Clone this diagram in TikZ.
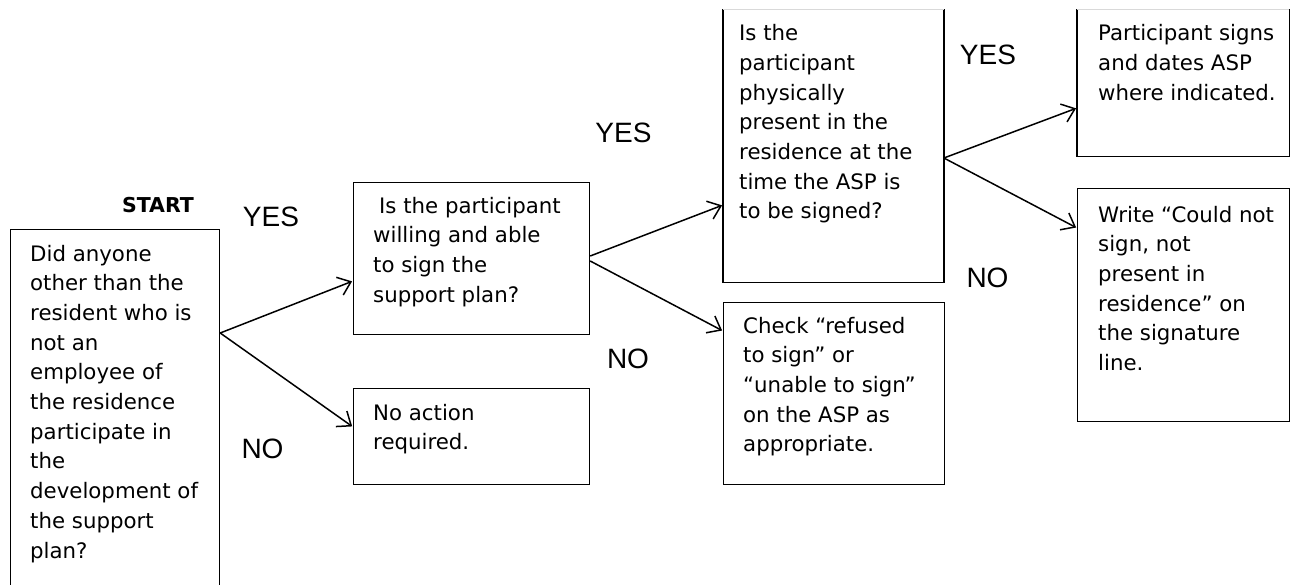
\documentclass[tikz,border=0pt]{standalone}
\usepackage{fontspec}
\setmainfont{DejaVu Sans}
\newfontfamily\arialfont{Liberation Sans}
\usetikzlibrary{arrows.meta}
\begin{document}
\begin{tikzpicture}[x=1pt,y=-1pt,
  boxnode/.style={draw=black, line width=1.2pt, rectangle, inner sep=0pt, anchor=north west},
  openbox/.style={draw=none, rectangle, inner sep=0pt, anchor=north west},
  sideline/.style={draw=black, line width=1.2pt},
  topline/.style={draw=black!15, line width=1pt},
  boxtext/.style={anchor=base west, inner sep=0pt, font=\fontsize{21.3}{29.7}\selectfont},
  answer/.style={anchor=base, inner sep=0pt, font=\arialfont\fontsize{28}{28}\selectfont},
  starttext/.style={anchor=base, inner sep=0pt, font=\bfseries\fontsize{20.5}{20.5}\selectfont},
  flow/.style={draw=black, line width=1.5pt, -{Straight Barb[length=12pt,width=19pt,line width=1.5pt]}, shorten >=1pt},
]
\useasboundingbox (0,0) rectangle (1290,584);
\fill[white] (0,0) rectangle (1290,584);

% boxes
\node[boxnode, minimum width=209.5pt, minimum height=390pt] (A) at (9.5,229) {};
\node[boxnode, minimum width=236pt, minimum height=152pt] (B) at (353,182) {};
\node[boxnode, minimum width=236pt, minimum height=96pt] (C) at (353,388) {};
\node[openbox, minimum width=220.5pt, minimum height=273pt] (D) at (723,9) {};
\node[boxnode, minimum width=220.5pt, minimum height=182pt] (E) at (723,302) {};
\node[openbox, minimum width=212pt, minimum height=147pt] (F) at (1077,9) {};
\node[boxnode, minimum width=212pt, minimum height=233pt] (G) at (1077,188) {};

\draw[sideline] (D.north west) -- (D.south west) -- (D.south east) -- (D.north east);
\draw[topline] (D.north west) -- (D.north east);
\draw[sideline] (F.north west) -- (F.south west) -- (F.south east) -- (F.north east);
\draw[topline] (F.north west) -- (F.north east);

% box texts
\node[boxtext] (tA) at (30,261) {\parbox[t]{200pt}{\raggedright Did anyone\\other than the\\resident who is\\not an\\employee of\\the residence\\participate in\\the\\development of\\the support\\plan?}};
\node[boxtext] (tB) at (373,213) {\parbox[t]{220pt}{\raggedright \hspace*{6pt}Is the participant\\willing and able\\to sign the\\support plan?}};
\node[boxtext] (tC) at (373,420) {\parbox[t]{220pt}{\raggedright No action\\required.}};
\node[boxtext] (tD) at (739,40.7) {\parbox[t]{210pt}{\raggedright Is the\\participant\\physically\\present in the\\residence at the\\time the ASP is\\to be signed?}};
\node[boxtext] (tE) at (743,333) {\parbox[t]{210pt}{\raggedright Check “refused\\to sign” or\\“unable to sign”\\on the ASP as\\appropriate.}};
\node[boxtext] (tF) at (1098,40.7) {\parbox[t]{200pt}{\raggedright Participant signs\\and dates ASP\\where indicated.}};
\node[boxtext] (tG) at (1098,222) {\parbox[t]{200pt}{\raggedright Write “Could not\\sign, not\\present in\\residence” on\\the signature\\line.}};

% labels
\node[starttext] (start) at (158,212) {START};
\node[answer] (yes1) at (271,226) {YES};
\node[answer] (no1) at (262.5,458) {NO};
\node[answer] (yes2) at (623.5,142) {YES};
\node[answer] (no2) at (628,368) {NO};
\node[answer] (yes3) at (988,64) {YES};
\node[answer] (no3) at (987.5,287) {NO};

% connector points
\coordinate (Aout) at ([yshift=-104pt]A.north east);
\coordinate (Bin) at ([yshift=-99pt]B.north west);
\coordinate (Cin) at ([yshift=-39pt]C.north west);
\coordinate (Bout1) at ([yshift=-74pt]B.north east);
\coordinate (Bout2) at ([yshift=-79pt]B.north east);
\coordinate (Din) at ([yshift=-196pt]D.north west);
\coordinate (Ein) at ([yshift=-29pt]E.north west);
\coordinate (Dout) at ([yshift=-149pt]D.north east);
\coordinate (Fin) at ([yshift=-99pt]F.north west);
\coordinate (Gin) at ([yshift=-40pt]G.north west);

% connectors
\draw[flow] (Aout) -- (Bin);
\draw[flow] (Aout) -- (Cin);
\draw[flow] (Bout1) -- (Din);
\draw[flow] (Bout2) -- (Ein);
\draw[flow] (Dout) -- (Fin);
\draw[flow] (Dout) -- (Gin);
\end{tikzpicture}
\end{document}
